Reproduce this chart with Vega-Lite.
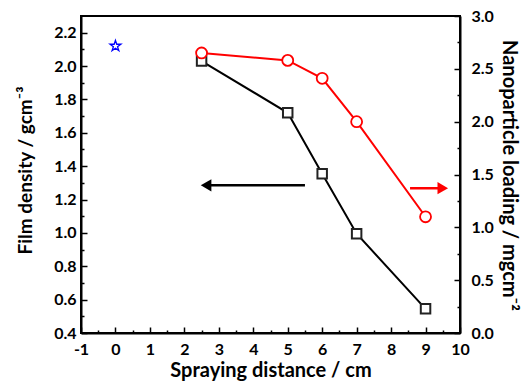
{
  "$schema": "https://vega.github.io/schema/vega-lite/v6.json",
  "width": 379,
  "height": 317,
  "autosize": {"type": "none"},
  "padding": {"left": 81, "top": 16, "right": 67, "bottom": 51},
  "config": {
    "view": {"stroke": "black", "strokeWidth": 2},
    "font": "Lato",
    "axis": {
      "grid": false,
      "domainColor": "black",
      "domainWidth": 2,
      "tickColor": "black",
      "tickWidth": 1.5,
      "labelColor": "black",
      "titleColor": "black",
      "labelFlush": false,
      "labelOverlap": false
    }
  },
  "datasets": {
    "density": [
      {"x": 2.5, "y": 2.03},
      {"x": 5, "y": 1.72},
      {"x": 6, "y": 1.355},
      {"x": 7, "y": 0.995},
      {"x": 9, "y": 0.545}
    ],
    "loading": [
      {"x": 2.5, "y": 2.65},
      {"x": 5, "y": 2.58},
      {"x": 6, "y": 2.41},
      {"x": 7, "y": 2.0},
      {"x": 9, "y": 1.1}
    ],
    "star": [{"x": 0, "y": 2.12}],
    "blackArrow": [{"x": 5.5, "y": 1.285}, {"x": 2.63, "y": 1.285}],
    "blackHead": [{"x": 2.63, "y": 1.285}],
    "redArrow": [{"x": 8.55, "y": 1.37}, {"x": 9.5, "y": 1.37}],
    "redHead": [{"x": 9.5, "y": 1.37}]
  },
  "encoding": {
    "x": {
      "field": "x",
      "type": "quantitative",
      "scale": {"domain": [-1, 10], "nice": false, "zero": false},
      "axis": {
        "title": "Spraying distance / cm",
        "titleFont": "Lato",
        "titleFontWeight": "bold",
        "titleFontSize": 20,
        "titleBaseline": "alphabetic",
        "titleY": 43,
        "labelFont": "Lato",
        "labelFontWeight": "bold",
        "labelFontSize": 16,
        "values": [-1, -0.5, 0, 0.5, 1, 1.5, 2, 2.5, 3, 3.5, 4, 4.5, 5, 5.5, 6, 6.5, 7, 7.5, 8, 8.5, 9, 9.5, 10],
        "labelExpr": "round(datum.value*2)%2==0 ? ''+datum.value : ''",
        "tickSize": {"condition": {"test": "round(datum.value*2)%2==0", "value": -6}, "value": -3},
        "labelPadding": 14
      }
    }
  },
  "layer": [
    {
      "encoding": {
        "y": {
          "field": "y",
          "type": "quantitative",
          "scale": {"domain": [0.4, 2.3], "nice": false, "zero": false},
          "axis": {
            "orient": "left",
            "title": "Film density / gcm⁻³",
            "titleFont": "Lato",
            "titleFontWeight": "bold",
            "titleFontSize": 19,
            "titleBaseline": "alphabetic",
            "titleAngle": -90,
            "titleX": -50,
            "titleY": 154,
            "labelFont": "Lato",
            "labelFontWeight": "bold",
            "labelFontSize": 16,
            "values": [0.4, 0.5, 0.6, 0.7, 0.8, 0.9, 1.0, 1.1, 1.2, 1.3, 1.4, 1.5, 1.6, 1.7, 1.8, 1.9, 2.0, 2.1, 2.2],
            "labelExpr": "round(datum.value*10)%2==0 ? format(datum.value, '.1f') : ''",
            "tickSize": {"condition": {"test": "round(datum.value*10)%2==0", "value": -6}, "value": -3},
            "labelPadding": 11
          }
        }
      },
      "layer": [
        {
          "data": {"name": "density"},
          "mark": {"type": "line", "color": "black", "strokeWidth": 2}
        },
        {
          "data": {"name": "density"},
          "mark": {"type": "point", "shape": "square", "filled": true, "fill": "white", "stroke": "#222222", "strokeWidth": 2, "size": 90, "opacity": 1}
        },
        {
          "data": {"name": "star"},
          "mark": {"type": "point", "shape": "M0,-1L0.2245,-0.309L0.951,-0.309L0.363,0.118L0.588,0.809L0,0.382L-0.588,0.809L-0.363,0.118L-0.951,-0.309L-0.2245,-0.309Z", "filled": false, "stroke": "#0000ff", "strokeWidth": 1.3, "size": 130, "opacity": 1}
        },
        {
          "data": {"name": "blackArrow"},
          "mark": {"type": "line", "color": "black", "strokeWidth": 2.5}
        },
        {
          "data": {"name": "blackHead"},
          "mark": {"type": "point", "shape": "triangle-left", "filled": true, "color": "black", "size": 150, "opacity": 1}
        }
      ]
    },
    {
      "encoding": {
        "y": {
          "field": "y",
          "type": "quantitative",
          "scale": {"domain": [0, 3], "nice": false, "zero": false},
          "axis": {
            "orient": "right",
            "title": "Nanoparticle loading / mgcm⁻²",
            "titleFont": "Lato",
            "titleFontWeight": "bold",
            "titleFontSize": 20,
            "titleBaseline": "alphabetic",
            "titleAngle": 90,
            "titleX": 42,
            "titleY": 159,
            "labelFont": "Lato",
            "labelFontWeight": "bold",
            "labelFontSize": 16,
            "values": [0, 0.25, 0.5, 0.75, 1, 1.25, 1.5, 1.75, 2, 2.25, 2.5, 2.75, 3],
            "labelExpr": "round(datum.value*4)%2==0 ? format(datum.value, '.1f') : ''",
            "tickSize": {"condition": {"test": "round(datum.value*4)%2==0", "value": -6}, "value": -3},
            "labelPadding": 17
          }
        }
      },
      "layer": [
        {
          "data": {"name": "loading"},
          "mark": {"type": "line", "color": "#ff0000", "strokeWidth": 2}
        },
        {
          "data": {"name": "loading"},
          "mark": {"type": "point", "shape": "circle", "filled": true, "fill": "white", "stroke": "#ff0000", "strokeWidth": 1.8, "size": 120, "opacity": 1}
        },
        {
          "data": {"name": "redArrow"},
          "mark": {"type": "line", "color": "#ff0000", "strokeWidth": 2.5}
        },
        {
          "data": {"name": "redHead"},
          "mark": {"type": "point", "shape": "triangle-right", "filled": true, "color": "#ff0000", "size": 150, "opacity": 1}
        }
      ]
    }
  ],
  "resolve": {"scale": {"y": "independent"}}
}
